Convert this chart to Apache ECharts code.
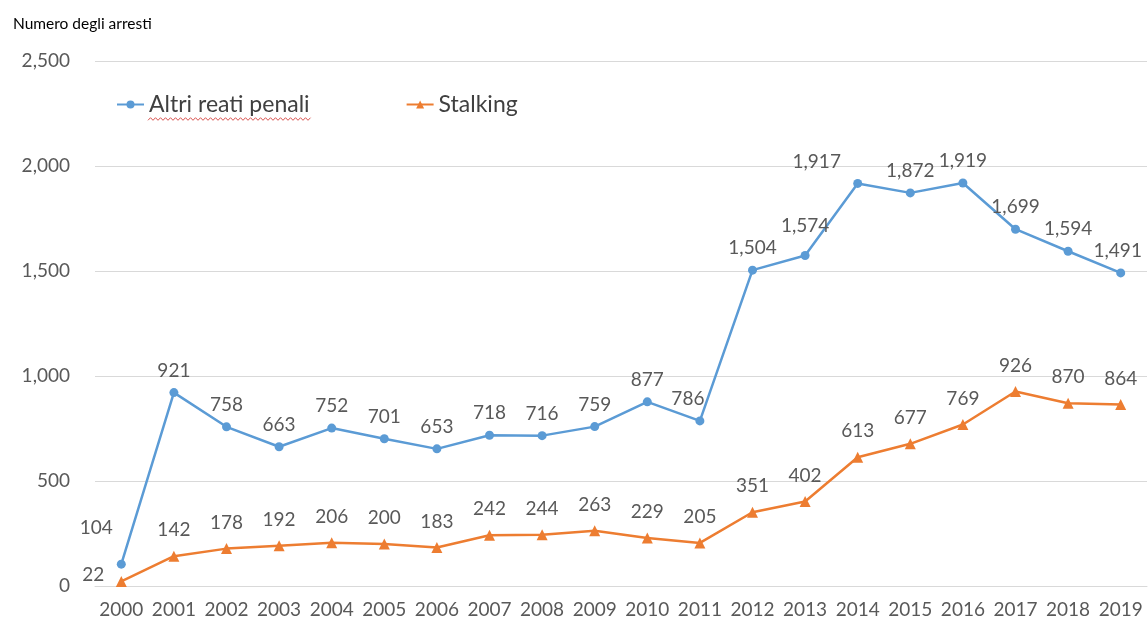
<!DOCTYPE html>
<html>
<head>
<meta charset="utf-8">
<script src="https://cdn.jsdelivr.net/npm/echarts@6/dist/echarts.min.js"></script>
<style>
  html, body { margin: 0; padding: 0; background: #fff; }
  #chart { width: 1148px; height: 622px; }
</style>
</head>
<body>
<div id="chart"></div>
<script>
// Arrests per year, 2000–2019
const years = ['2000','2001','2002','2003','2004','2005','2006','2007','2008','2009',
               '2010','2011','2012','2013','2014','2015','2016','2017','2018','2019'];
const altriReati = [104, 921, 758, 663, 752, 701, 653, 718, 716, 759,
                    877, 786, 1504, 1574, 1917, 1872, 1919, 1699, 1594, 1491];
const stalking = [22, 142, 178, 192, 206, 200, 183, 242, 244, 263,
                  229, 205, 351, 402, 613, 677, 769, 926, 870, 864];
const yTicks = { min: 0, max: 2500, interval: 500 };

const FONT = 'Lato, "Open Sans", sans-serif';
const BLUE = '#5B9BD5';
const ORANGE = '#ED7D31';
const TEXT = '#595959';

const fmt = v => v.toLocaleString('en-US');

// Label tweaks for a few crowded points: [dx, dy] nudges
const blueNudge = { 0: [-25, -14], 11: [-12, 0], 13: [0, -8], 14: [-41, 0], 19: [-3, 0] };
const orangeNudge = { 0: [-28, 19] };

function makeData(values, nudge) {
  return values.map((v, i) => {
    const n = nudge[i];
    if (!n) return v;
    return { value: v, label: { offset: n } };
  });
}

// Spell-check style squiggle under the first legend entry
const squiggle = [];
for (let x = 148, k = 0; x <= 311; x += 2.5, k++) {
  squiggle.push([x, 119 + (k % 2 ? -1.3 : 1.3)]);
}

const chart = echarts.init(document.getElementById('chart'), null, { renderer: 'canvas' });
chart.setOption({
  backgroundColor: '#fff',
  animation: false,
  title: {
    text: 'Numero degli arresti',
    left: 8, top: 11,
    textStyle: { fontFamily: FONT, fontSize: 15.5, fontWeight: 'normal', color: '#000' }
  },
  legend: {
    left: 116, top: 93, padding: 0,
    itemWidth: 27, itemHeight: 10, itemGap: 96,
    textStyle: { fontFamily: FONT, fontSize: 23, color: '#404040' },
    data: ['Altri reati penali', 'Stalking']
  },
  grid: { left: 95, right: 1, top: 61, bottom: 36, containLabel: false },
  xAxis: {
    type: 'category',
    data: years,
    boundaryGap: true,
    axisLine: { show: true, lineStyle: { color: '#d9d9d9', width: 1 } },
    axisTick: { show: false },
    axisLabel: { interval: 0, hideOverlap: false, fontFamily: FONT, fontSize: 19, color: TEXT, margin: 14 }
  },
  yAxis: {
    type: 'value',
    min: yTicks.min, max: yTicks.max, interval: yTicks.interval,
    axisLine: { show: false },
    axisTick: { show: false },
    splitLine: { lineStyle: { color: '#d9d9d9', width: 1 } },
    axisLabel: { fontFamily: FONT, fontSize: 19, color: TEXT, margin: 25, formatter: fmt }
  },
  series: [
    {
      name: 'Altri reati penali',
      type: 'line',
      data: makeData(altriReati, blueNudge),
      symbol: 'circle', symbolSize: 9,
      lineStyle: { color: BLUE, width: 2.5 },
      itemStyle: { color: BLUE },
      label: {
        show: true, position: 'top', distance: 8,
        fontFamily: FONT, fontSize: 19, color: TEXT,
        formatter: p => fmt(p.value)
      }
    },
    {
      name: 'Stalking',
      type: 'line',
      data: makeData(stalking, orangeNudge),
      symbol: 'triangle', symbolSize: 11,
      lineStyle: { color: ORANGE, width: 2.5 },
      itemStyle: { color: ORANGE },
      label: {
        show: true, position: 'top', distance: 11,
        fontFamily: FONT, fontSize: 19, color: TEXT,
        formatter: p => fmt(p.value)
      }
    }
  ],
  graphic: [{
    type: 'polyline',
    shape: { points: squiggle },
    style: { stroke: '#d9534f', lineWidth: 1, fill: null },
    silent: true
  }]
});
</script>
</body>
</html>
